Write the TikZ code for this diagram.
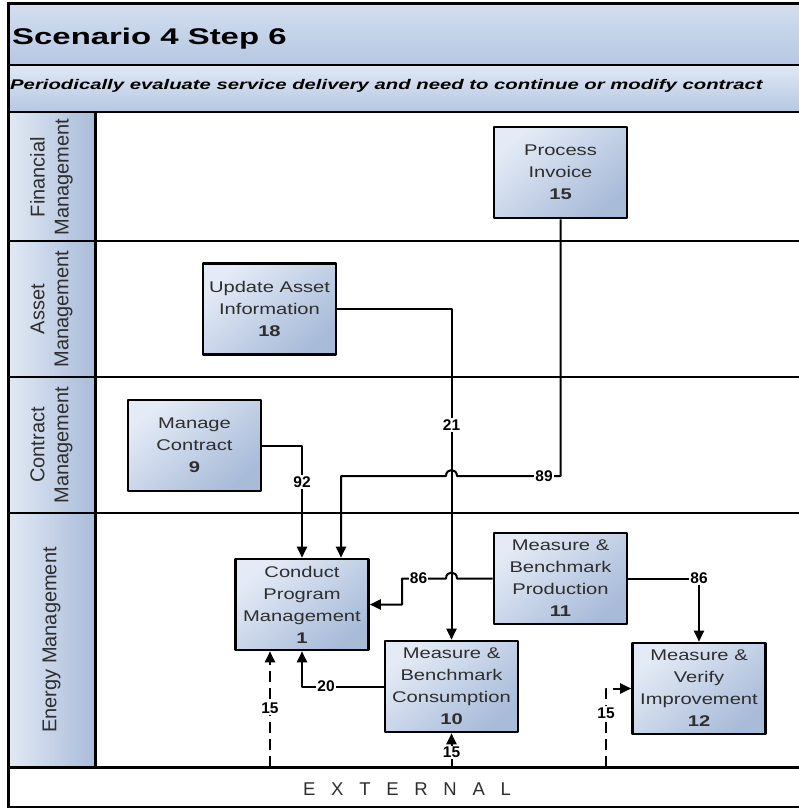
\documentclass[tikz,border=0pt]{standalone}
\usepackage{fontspec}
\setmainfont{Liberation Sans}
\newfontfamily\widefont{Liberation Sans}[FakeStretch=1.45]
\newfontfamily\boxfont{Liberation Sans}[FakeStretch=1.3]
\usetikzlibrary{arrows.meta}
\definecolor{bandlight}{HTML}{D3DFF0}
\definecolor{banddark}{HTML}{B5C7E2}
\definecolor{boxlight}{HTML}{E4EBF6}
\definecolor{boxdark}{HTML}{A8BBD9}
\definecolor{lanelight}{HTML}{E2E9F4}
\definecolor{lanedark}{HTML}{A9BCDA}
\definecolor{txtgray}{HTML}{2E2E2E}
\begin{document}
\begin{tikzpicture}[x=1pt,y=-1pt,>={Triangle[length=11pt,width=10pt]},line join=round,
	proc/.style={draw=black,line width=2.6pt,top color=boxlight,bottom color=boxdark,shading angle=40,
		minimum width=133pt,minimum height=91pt,inner sep=0pt,align=center,text=txtgray,
		font=\boxfont\fontsize{15.5}{22}\selectfont},
	lane/.style={rotate=90,align=center,text=txtgray,font=\fontsize{20}{24}\selectfont},
	lbl/.style={fill=white,inner sep=1.2pt,font=\bfseries\fontsize{15.5}{15.5}\selectfont},
	conn/.style={line width=2pt},
	ext/.style={conn,dash pattern=on 11pt off 6pt}]
	\useasboundingbox (0,0) rectangle (799,809);
	% header bands and lane column
	\shade[top color=bandlight,bottom color=banddark] (8,3) rectangle (799,65);
	\shade[top color=bandlight!70!white,bottom color=banddark] (8,65) rectangle (799,112);
	\shade[left color=lanelight,right color=lanedark] (8,112) rectangle (95,767);
	\draw[line width=3pt] (8,3) -- (799,3);
	\draw[line width=1.6pt] (8,65) -- (799,65);
	\draw[line width=2pt] (8,112) -- (799,112);
	\draw[line width=2pt] (8,241) -- (799,241) (8,377) -- (799,377) (8,513) -- (799,513);
	\draw[line width=3pt] (8,767) -- (799,767);
	\draw[line width=2pt] (8,807) -- (799,807);
	\draw[line width=3pt] (95,112) -- (95,767);
	\draw[line width=3pt] (8,1.5) -- (8,808);
	\node[anchor=base west,inner sep=0pt,font=\widefont\bfseries\fontsize{22.7}{22.7}\selectfont] (title) at (12,44) {Scenario 4 Step 6};
	\node[anchor=base west,inner sep=0pt,font=\widefont\bfseries\itshape\fontsize{14}{14}\selectfont] (subtitle) at (10,89.5)
		{Periodically evaluate service delivery and need to continue or modify contract};
	\node[lane] (finlane) at (51.5,177) {Financial\\Management};
	\node[lane] (assetlane) at (51.5,309) {Asset\\Management};
	\node[lane] (contractlane) at (51.5,445) {Contract\\Management};
	\node[lane] (energylane) at (51.5,640) {Energy Management};
	\node[anchor=base west,inner sep=0pt,text=txtgray,font=\fontsize{18.5}{18.5}\selectfont\addfontfeature{LetterSpace=85}] (external) at (303,795) {EXTERNAL};

	% process boxes
	\node[proc] (pi) at (560.5,172.5) {Process\\Invoice\\\textbf{15}};
	\node[proc] (ua) at (269.5,309) {Update Asset\\Information\\\textbf{18}};
	\node[proc] (mc) at (194.5,445.5) {Manage\\Contract\\\textbf{9}};
	\node[proc] (cpm) at (302,604.5) {Conduct\\Program\\Management\\\textbf{1}};
	\node[proc] (mbp) at (560.5,578.5) {Measure \&\\Benchmark\\Production\\\textbf{11}};
	\node[proc] (mbc) at (451.5,686.5) {Measure \&\\Benchmark\\Consumption\\\textbf{10}};
	\node[proc] (mvi) at (699,688.5) {Measure \&\\Verify\\Improvement\\\textbf{12}};
	\coordinate (ex1) at (270,767);
	\coordinate (ex2) at (451.5,767);
	\coordinate (ex3) at (606,767);

	% connectors
	\draw[conn,->] (ua.east) -| (mbc.north);
	\draw[conn,->] (mc.east) -| (cpm.north);
	\draw[conn,->] (pi.south) |- (457,476) .. controls (457,468) and (446,468) .. (446,476) -- (341,476) -- ([xshift=39pt]cpm.north);
	\draw[conn,->] (mbp.west) -- (457,578.5) .. controls (457,570.5) and (446,570.5) .. (446,578.5) -- (402,578.5) |- (cpm.east);
	\draw[conn,->] (mbp.east) -| (mvi.north);
	\draw[conn,->] (mbc.west) -| (cpm.south);
	\draw[ext,->] (ex1) -- (ex1 |- cpm.south);
	\draw[ext,->] (ex2) -- (mbc.south);
	\draw[ext,->] (ex3) |- (mvi.west);
	\node[lbl] (l21) at (451.5,425) {21};
	\node[lbl] (l92) at (302,482) {92};
	\node[lbl] (l89) at (544,476) {89};
	\node[lbl] (l86a) at (418.5,578.5) {86};
	\node[lbl] (l86b) at (699,578.5) {86};
	\node[lbl] (l20) at (326,686.5) {20};
	\node[lbl] (l15a) at (270,708) {15};
	\node[lbl] (l15b) at (451.5,752.5) {15};
	\node[lbl] (l15c) at (606,713) {15};

\end{tikzpicture}
\end{document}
